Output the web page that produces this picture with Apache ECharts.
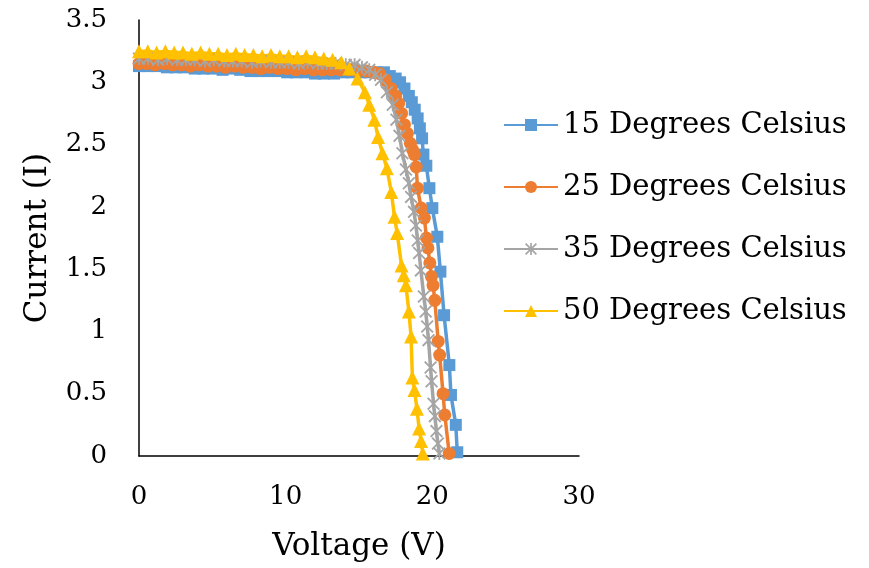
<!DOCTYPE html>
<html>
<head>
<meta charset="utf-8">
<script src="https://cdn.jsdelivr.net/npm/echarts@6/dist/echarts.min.js"></script>
<style>
  html, body { margin: 0; padding: 0; background: #fff; }
  #chart { width: 869px; height: 568px; }
</style>
</head>
<body>
<div id="chart"></div>
<script>
// I-V curves of a solar module at four cell temperatures
const seriesNames = ['15 Degrees Celsius', '25 Degrees Celsius', '35 Degrees Celsius', '50 Degrees Celsius'];

const v15 = [0, 0.6, 1.2, 1.9, 2.5, 3.1, 3.8, 4.4, 5.0, 5.7, 6.3, 6.9, 7.6, 8.2, 8.8, 9.5, 10.1, 10.7, 11.4, 12.0, 12.6, 13.3, 13.9, 14.5, 15.1, 15.7, 16.2, 16.7, 17.1, 17.5, 17.8, 18.1, 18.4, 18.6, 18.8, 19.0, 19.15, 19.3, 19.39, 19.59, 19.8, 20.0, 20.34, 20.55, 20.8, 21.16, 21.27, 21.6, 21.7];
const i15 = [3.13, 3.13, 3.13, 3.12, 3.12, 3.12, 3.11, 3.11, 3.11, 3.10, 3.11, 3.10, 3.09, 3.09, 3.09, 3.09, 3.08, 3.08, 3.08, 3.07, 3.07, 3.07, 3.08, 3.08, 3.08, 3.08, 3.08, 3.08, 3.05, 3.03, 3.00, 2.95, 2.89, 2.84, 2.78, 2.71, 2.63, 2.55, 2.42, 2.33, 2.15, 1.99, 1.76, 1.48, 1.13, 0.73, 0.49, 0.25, 0.03];

const v25 = [0, 0.5, 1.1, 1.7, 2.3, 2.9, 3.5, 4.1, 4.7, 5.3, 5.9, 6.5, 7.1, 7.7, 8.3, 8.9, 9.5, 10.1, 10.7, 11.3, 11.9, 12.5, 13.1, 13.7, 14.3, 14.9, 15.5, 16.0, 16.4, 16.8, 17.2, 17.5, 17.7, 17.9, 18.1, 18.3, 18.5, 18.65, 18.78, 18.9, 18.99, 19.24, 19.46, 19.6, 19.7, 19.83, 19.94, 20.05, 20.17, 20.4, 20.5, 20.73, 20.85, 21.15];
const i25 = [3.15, 3.15, 3.14, 3.15, 3.14, 3.14, 3.13, 3.14, 3.13, 3.13, 3.12, 3.13, 3.12, 3.12, 3.11, 3.12, 3.11, 3.11, 3.10, 3.11, 3.10, 3.10, 3.10, 3.10, 3.10, 3.09, 3.09, 3.08, 3.07, 3.02, 2.95, 2.89, 2.83, 2.75, 2.66, 2.59, 2.51, 2.46, 2.42, 2.32, 2.15, 1.99, 1.91, 1.75, 1.67, 1.55, 1.44, 1.37, 1.25, 0.92, 0.81, 0.50, 0.33, 0.02];

const v35 = [0, 0.6, 1.3, 1.9, 2.6, 3.2, 3.8, 4.5, 5.1, 5.8, 6.4, 7.0, 7.7, 8.3, 9.0, 9.6, 10.2, 10.9, 11.5, 12.2, 12.8, 13.4, 14.1, 14.7, 15.2, 15.7, 16.1, 16.5, 16.9, 17.3, 17.55, 17.76, 17.96, 18.2, 18.4, 18.55, 18.75, 18.88, 19.0, 19.1, 19.22, 19.42, 19.55, 19.65, 19.74, 19.88, 19.95, 20.08, 20.17, 20.28, 20.38, 20.48];
const i35 = [3.19, 3.19, 3.18, 3.19, 3.18, 3.18, 3.18, 3.17, 3.18, 3.17, 3.17, 3.17, 3.16, 3.17, 3.16, 3.16, 3.16, 3.15, 3.16, 3.15, 3.15, 3.15, 3.14, 3.14, 3.12, 3.10, 3.06, 3.02, 2.92, 2.82, 2.70, 2.57, 2.43, 2.30, 2.19, 2.08, 1.96, 1.85, 1.73, 1.63, 1.49, 1.28, 1.16, 1.04, 0.93, 0.71, 0.60, 0.42, 0.32, 0.20, 0.10, 0.02];

const v50 = [0, 0.6, 1.2, 1.8, 2.4, 3.0, 3.6, 4.2, 4.8, 5.4, 6.0, 6.6, 7.2, 7.8, 8.4, 9.0, 9.6, 10.2, 10.8, 11.4, 12.0, 12.6, 13.2, 13.8, 14.35, 14.9, 15.4, 15.7, 16.05, 16.3, 16.6, 16.9, 17.2, 17.42, 17.6, 17.9, 18.05, 18.2, 18.4, 18.55, 18.64, 18.78, 18.95, 19.1, 19.23, 19.35];
const i50 = [3.25, 3.25, 3.24, 3.25, 3.24, 3.24, 3.23, 3.24, 3.23, 3.23, 3.22, 3.23, 3.22, 3.22, 3.21, 3.22, 3.21, 3.21, 3.20, 3.21, 3.20, 3.19, 3.18, 3.16, 3.11, 3.03, 2.92, 2.82, 2.70, 2.56, 2.43, 2.31, 2.12, 1.92, 1.79, 1.53, 1.45, 1.37, 1.16, 0.96, 0.63, 0.53, 0.38, 0.22, 0.12, 0.02];

const colors = ['#5B9BD5', '#ED7D31', '#A5A5A5', '#FFC000'];

// asterisk marker: a vertical bar crossed by two diagonals
const starPath = 'path://M4.3 0L5.7 0L5.7 10L4.3 10Z M0 1L1 0L10 9L9 10Z M9 0L10 1L1 10L0 9Z';
const symbols = ['rect', 'circle', starPath, 'triangle'];
const symbolSizes = [12, 13, 13, 14];

const pairs = (xs, ys) => xs.map((x, k) => [x, ys[k]]);
const dataSets = [pairs(v15, i15), pairs(v25, i25), pairs(v35, i35), pairs(v50, i50)];

const FONT = 'DejaVu Serif';

const chart = echarts.init(document.getElementById('chart'), null, { renderer: 'canvas' });
chart.setOption({
  animation: false,
  backgroundColor: '#ffffff',
  grid: { left: 139, right: 290, top: 20, bottom: 112, containLabel: false },
  legend: {
    orient: 'vertical',
    left: 503,
    top: 110,
    padding: 0,
    itemWidth: 54,
    itemHeight: 15,
    itemGap: 32,
    textStyle: { fontFamily: FONT, fontSize: 29, color: '#000', lineHeight: 30 },
    data: seriesNames
  },
  xAxis: {
    type: 'value',
    min: 0, max: 30, interval: 10,
    name: 'Voltage (V)',
    nameLocation: 'middle',
    nameGap: 75,
    nameTextStyle: { fontFamily: FONT, fontSize: 31, color: '#000' },
    axisLine: { show: true, lineStyle: { color: '#000', width: 1.5 } },
    axisTick: { show: false },
    splitLine: { show: false },
    axisLabel: { fontFamily: FONT, fontSize: 26, color: '#000', margin: 28 }
  },
  yAxis: {
    type: 'value',
    min: 0, max: 3.5, interval: 0.5,
    name: 'Current (I)',
    nameLocation: 'middle',
    nameGap: 86,
    nameTextStyle: { fontFamily: FONT, fontSize: 31, color: '#000' },
    axisLine: { show: true, lineStyle: { color: '#000', width: 1.5 } },
    axisTick: { show: false },
    splitLine: { show: false },
    axisLabel: { fontFamily: FONT, fontSize: 26, color: '#000', margin: 32 }
  },
  series: seriesNames.map((name, k) => ({
    name: name,
    type: 'line',
    data: dataSets[k],
    symbol: symbols[k],
    symbolSize: symbolSizes[k],
    showAllSymbol: true,
    color: colors[k],
    lineStyle: { color: colors[k], width: 3.5 },
    itemStyle: { color: colors[k] }
  }))
});
</script>
</body>
</html>
